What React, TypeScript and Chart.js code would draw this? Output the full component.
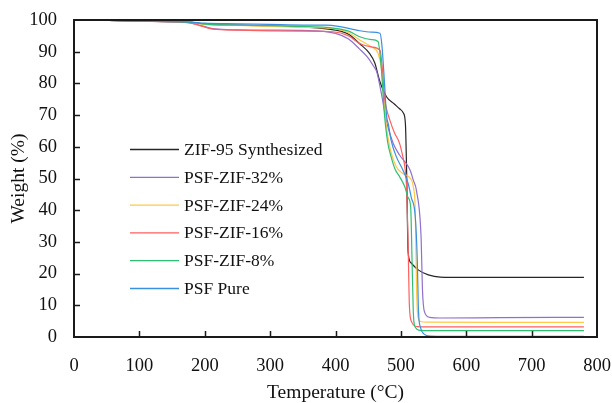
import React, { useEffect, useRef } from 'react';
import { Chart, registerables } from 'chart.js';

Chart.register(...registerables);

// ---- Data (temperature °C, weight %) ----
const zifT = [30, 100, 175, 200, 250, 300, 350, 400, 420, 437, 452, 460, 468, 478, 490, 498, 504, 507, 509, 511, 515, 527, 542, 560, 600, 700, 780];
const zifW = [100, 99.6, 99.3, 98.7, 98.4, 98.1, 97.8, 96.8, 95.5, 92.5, 89.5, 86.5, 80.5, 75.8, 73.5, 72, 70.6, 67, 50, 27, 23.5, 21.1, 19.6, 18.9, 18.8, 18.8, 18.8];

const psf32T = [30, 100, 175, 190, 215, 250, 300, 350, 400, 420, 437, 448, 458, 463, 470, 478, 488, 498, 506, 514, 519, 524, 531, 533, 536, 544, 560, 650, 780];
const psf32W = [100, 99.6, 99.2, 98.5, 97.2, 96.9, 96.8, 96.7, 95.8, 94, 90.8, 88.5, 85.5, 83.7, 77, 68, 61.2, 57.4, 55.3, 52.7, 49.5, 46, 31, 15, 8, 6.2, 6, 6.1, 6.2];

const psf24T = [30, 100, 175, 200, 250, 300, 350, 400, 420, 437, 455, 465, 470, 474, 478, 483, 493, 503, 514, 519, 522, 524, 526, 530, 540, 650, 780];
const psf24W = [100, 99.6, 99.3, 98.6, 98.3, 98, 97.7, 97.2, 96, 93.7, 91.5, 89.5, 85, 75, 66.3, 60, 53.7, 51.6, 50.1, 47.4, 40, 15, 6.5, 4.9, 4.7, 4.6, 4.6];

const psf16T = [30, 100, 175, 190, 213, 250, 300, 350, 396, 420, 437, 455, 468, 472, 475, 478, 483, 490, 498, 503, 506, 509, 511, 513, 516, 525, 560, 650, 780];
const psf16W = [100, 99.6, 99.2, 98.4, 97.1, 96.8, 96.6, 96.5, 96.3, 95, 92.6, 91.5, 90.5, 84, 75.4, 72, 68.5, 64.5, 61.1, 56.9, 53.7, 46, 30, 10, 5, 3.3, 3.2, 3.2, 3.2];

const psf8T = [30, 100, 175, 200, 250, 300, 350, 386, 420, 437, 455, 465, 470, 475, 480, 485, 491, 498, 506, 511, 515, 517, 519, 521, 530, 560, 650, 780];
const psf8W = [100, 99.6, 99.3, 98.7, 98.4, 98.2, 98, 97.7, 96.5, 94.7, 93.8, 93.2, 85, 70, 61.2, 56.9, 53, 50.6, 47.4, 44, 41, 25, 8, 3.5, 2.1, 2.0, 2.0, 2.0];

const psfPureT = [30, 100, 175, 200, 250, 300, 350, 386, 407, 437, 455, 468, 471, 475, 478, 481, 485, 493, 503, 511, 516, 522, 525, 527, 530, 535, 545, 600, 780];
const psfPureW = [100, 99.6, 99.4, 99, 98.8, 98.6, 98.4, 98.4, 97.9, 96.6, 96.2, 95.8, 92, 80, 70, 67, 62.1, 56.9, 52.7, 48.5, 44, 38, 25, 8, 3, 1, 0.3, 0.2, 0.2];

const seriesLabels = ['ZIF-95 Synthesized', 'PSF-ZIF-32%', 'PSF-ZIF-24%', 'PSF-ZIF-16%', 'PSF-ZIF-8%', 'PSF Pure'];
const seriesColors = ['#262626', '#8f6fd0', '#ffc845', '#ff5f5f', '#2fbf71', '#3a90e0'];
const seriesT = [zifT, psf32T, psf24T, psf16T, psf8T, psfPureT];
const seriesW = [zifW, psf32W, psf24W, psf16W, psf8W, psfPureW];

const xMin = 0, xMax = 800, xStep = 100;
const yMin = 0, yMax = 100, yStep = 10;
const xTitle = 'Temperature (°C)';
const yTitle = 'Weight (%)';

const FONT = "'Liberation Serif', 'Times New Roman', serif";

const framePlugin = {
  id: 'frameAndTicks',
  afterDraw(chart: any) {
    const { ctx, chartArea } = chart;
    const xs = chart.scales.x;
    const ys = chart.scales.y;
    ctx.save();
    ctx.strokeStyle = '#1a1a1a';
    ctx.lineWidth = 1.5;
    const tl = 6;
    ctx.beginPath();
    for (let v = xMin + xStep; v < xMax; v += xStep) {
      const px = Math.round(xs.getPixelForValue(v)) + 0.5;
      ctx.moveTo(px, chartArea.bottom);
      ctx.lineTo(px, chartArea.bottom - tl);
    }
    for (let v = yMin + yStep; v < yMax; v += yStep) {
      const py = Math.round(ys.getPixelForValue(v)) + 0.5;
      ctx.moveTo(chartArea.left, py);
      ctx.lineTo(chartArea.left + tl, py);
    }
    ctx.stroke();
    ctx.lineWidth = 2;
    ctx.strokeRect(chartArea.left, chartArea.top, chartArea.right - chartArea.left, chartArea.bottom - chartArea.top);

    // legend
    const lx0 = 130, lx1 = 179, tx = 184, y0 = 149.5, dy = 27.8;
    ctx.font = `17.5px ${FONT}`;
    ctx.textBaseline = 'middle';
    ctx.textAlign = 'left';
    chart.data.datasets.forEach((ds: any, i: number) => {
      const y = y0 + i * dy;
      ctx.strokeStyle = ds.borderColor;
      ctx.lineWidth = 1.3;
      ctx.beginPath();
      ctx.moveTo(lx0, y);
      ctx.lineTo(lx1, y);
      ctx.stroke();
      ctx.fillStyle = '#111';
      ctx.fillText(ds.label, tx, y + 1);
    });
    ctx.restore();
  },
};

export default function App() {
  const ref = useRef<HTMLCanvasElement | null>(null);
  useEffect(() => {
    if (!ref.current) return;
    const datasets = seriesLabels.map((label, i) => ({
      label,
      data: seriesT[i].map((t, j) => ({ x: t, y: seriesW[i][j] })),
      borderColor: seriesColors[i],
      backgroundColor: seriesColors[i],
      borderWidth: 1.2,
      pointRadius: 0,
      cubicInterpolationMode: 'monotone' as const,
      fill: false,
      order: seriesLabels.length - i,
    }));
    const chart = new Chart(ref.current, {
      type: 'line',
      data: { datasets },
      options: {
        animation: false,
        responsive: false,
        devicePixelRatio: 1,
        layout: { padding: { top: 20, right: 15, left: 0, bottom: 0 } },
        plugins: { legend: { display: false }, tooltip: { enabled: false } },
        scales: {
          x: {
            type: 'linear',
            min: xMin,
            max: xMax,
            ticks: { stepSize: xStep, color: '#111', font: { family: FONT, size: 18.5 }, padding: 0, maxRotation: 0 },
            grid: { display: false, drawTicks: true, tickLength: 18 },
            border: { display: false },
            title: { display: true, text: xTitle, color: '#111', font: { family: FONT, size: 19.5 }, padding: { top: 0, bottom: -2 } },
            afterFit: (s: any) => { s.height = 66; },
          },
          y: {
            type: 'linear',
            min: yMin,
            max: yMax,
            ticks: { stepSize: yStep, color: '#111', font: { family: FONT, size: 18.5 }, padding: 0 },
            grid: { display: false, drawTicks: true, tickLength: 17 },
            border: { display: false },
            title: { display: true, text: yTitle, color: '#111', font: { family: FONT, size: 19.5 }, padding: { top: 7, bottom: 0 } },
            afterFit: (s: any) => { s.width = 74; },
          },
        },
      },
      plugins: [framePlugin],
    });
    return () => chart.destroy();
  }, []);
  return (
    <div style={{ position: 'fixed', left: 0, top: 0, width: 612, height: 403, background: '#fff' }}>
      <canvas ref={ref} width={612} height={403} />
    </div>
  );
}
